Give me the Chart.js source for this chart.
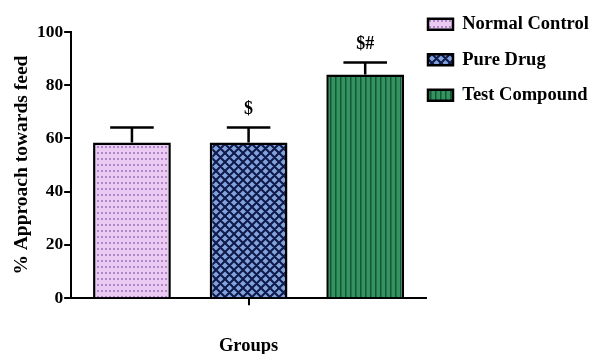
<!DOCTYPE html>
<html>
<head>
<meta charset="utf-8">
<script src="https://cdn.jsdelivr.net/npm/chart.js@4"></script>
<style>
  html, body { margin: 0; padding: 0; background: #fff; }
  #wrap { width: 590px; height: 354px; }
</style>
</head>
<body>
<div id="wrap"><canvas id="chart" width="590" height="354"></canvas></div>
<script>
// Group means with SEM, and significance marks shown above each bar
const groups = ['Normal Control', 'Pure Drug', 'Test Compound'];
const means = [58.5, 58.5, 84.0];
const sems = [5.6, 5.6, 4.5];
const marks = ['', '$', '$#'];
const yTicks = [0, 20, 40, 60, 80, 100];
const xCategory = [''];

const FONT = "'Liberation Serif', 'Times New Roman', serif";
const canvas = document.getElementById('chart');
const mainCtx = canvas.getContext('2d');

function makePattern(w, h, paint) {
  const c = document.createElement('canvas');
  c.width = w; c.height = h;
  const g = c.getContext('2d');
  paint(g, w, h);
  return mainCtx.createPattern(c, 'repeat');
}

// dotted lavender
const dotFill = makePattern(4, 6, (g, w, h) => {
  g.fillStyle = '#ebcbf3';
  g.fillRect(0, 0, w, h);
  g.fillStyle = '#ad8ac5';
  g.fillRect(1, 2, 2, 2);
});

// navy crosshatch over light blue
const hatchFill = makePattern(9, 9, (g, w, h) => {
  g.fillStyle = '#81a2dc';
  g.fillRect(0, 0, w, h);
  g.strokeStyle = '#0f1a4a';
  g.lineWidth = 2.1;
  g.beginPath();
  for (const k of [-9, 0, 9]) {
    g.moveTo(-2 + k, -2); g.lineTo(11 + k, 11);
    g.moveTo(11 + k, -2); g.lineTo(-2 + k, 11);
  }
  g.stroke();
});

// vertical stripes on green
const stripeFill = makePattern(5, 4, (g, w, h) => {
  g.fillStyle = '#34935f';
  g.fillRect(0, 0, w, h);
  g.fillStyle = '#12573a';
  g.fillRect(0, 0, 1, h);
  g.fillStyle = '#22754b';
  g.fillRect(1, 0, 1, h);
});

const fills = [dotFill, hatchFill, stripeFill];

// upper SEM whisker with cap, plus the significance mark above it
const errorBars = {
  id: 'errorBars',
  afterDatasetsDraw(chart) {
    const ctx = chart.ctx;
    const y = chart.scales.y;
    ctx.save();
    ctx.strokeStyle = '#000';
    ctx.fillStyle = '#000';
    ctx.lineWidth = 2.5;
    ctx.font = 'bold 18px ' + FONT;
    ctx.textAlign = 'center';
    ctx.textBaseline = 'middle';
    chart.data.datasets.forEach((ds, i) => {
      const bar = chart.getDatasetMeta(i).data[0];
      const top = y.getPixelForValue(means[i]);
      const hi = y.getPixelForValue(means[i] + sems[i]);
      const half = bar.width * 0.28;
      ctx.beginPath();
      ctx.moveTo(bar.x, top);
      ctx.lineTo(bar.x, hi);
      ctx.moveTo(bar.x - half, hi);
      ctx.lineTo(bar.x + half, hi);
      ctx.stroke();
      if (marks[i]) ctx.fillText(marks[i], bar.x, hi - 18);
    });
    ctx.restore();
  }
};

// keep the legend narrow and pinned to the upper right corner
const legendPlacement = {
  id: 'legendPlacement',
  beforeLayout(chart) {
    const lg = chart.legend;
    if (lg && !lg._narrowed) {
      const fit = lg.fit;
      lg.fit = function () { fit.call(this); this.width = 164; };
      lg._narrowed = true;
    }
  },
  afterLayout(chart) {
    const lg = chart.legend;
    lg.left = chart.chartArea.right - 15;
    lg.top = -2;
  }
};

new Chart(canvas, {
  type: 'bar',
  data: {
    labels: xCategory,
    datasets: groups.map((name, i) => ({
      label: name,
      data: [means[i]],
      backgroundColor: fills[i],
      borderColor: '#000',
      borderWidth: 2.5,
      borderSkipped: 'start',
      barPercentage: 0.667,
      categoryPercentage: 0.986
    }))
  },
  options: {
    responsive: false,
    animation: false,
    devicePixelRatio: 1,
    events: [],
    layout: { padding: { top: 32, left: 0, right: 0, bottom: 0 } },
    plugins: {
      tooltip: { enabled: false },
      legend: {
        display: true,
        position: 'right',
        align: 'start',
        labels: {
          boxWidth: 25,
          boxHeight: 11,
          padding: 17,
          color: '#000',
          font: { family: FONT, size: 18.5, weight: 'bold' }
        }
      }
    },
    scales: {
      x: {
        ticks: { display: false },
        grid: {
          offset: false,
          drawOnChartArea: false,
          drawTicks: true,
          tickLength: 7,
          color: '#000',
          lineWidth: 2
        },
        border: { display: true, color: '#000', width: 2 },
        title: {
          display: true,
          text: 'Groups',
          color: '#000',
          font: { family: FONT, size: 18.5, weight: 'bold', lineHeight: 0.8 },
          padding: { top: 34, bottom: 0 }
        }
      },
      y: {
        min: 0,
        max: 100,
        afterBuildTicks: (scale) => { scale.ticks = yTicks.map(v => ({ value: v })); },
        ticks: {
          color: '#000',
          padding: 1,
          font: { family: FONT, size: 17.5, weight: 'bold' }
        },
        grid: {
          drawOnChartArea: false,
          drawTicks: true,
          tickLength: 7,
          color: '#000',
          lineWidth: 2
        },
        border: { display: true, color: '#000', width: 2 },
        title: {
          display: true,
          text: '% Approach towards feed',
          color: '#000',
          font: { family: FONT, size: 19.5, weight: 'bold' },
          padding: { top: 10, bottom: 2.5 }
        }
      }
    }
  },
  plugins: [errorBars, legendPlacement]
});
</script>
</body>
</html>
